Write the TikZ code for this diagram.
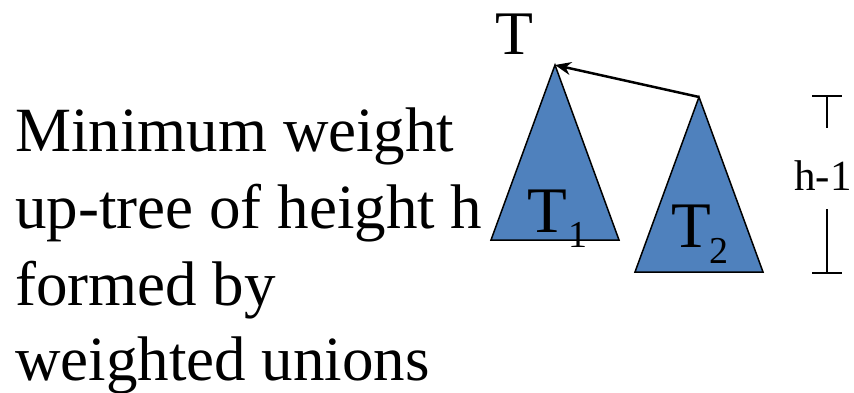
\documentclass[tikz,border=0pt]{standalone}
\usepackage{fontspec}
\setmainfont{Liberation Serif}
\usetikzlibrary{arrows.meta}
\definecolor{treeblue}{RGB}{79,129,189}
\tikzset{
  main/.style={anchor=base west, inner sep=0pt, font=\fontsize{63}{72}\selectfont},
  tree/.style={draw=black, line width=1.5pt, fill=treeblue, line join=miter},
  bar/.style={draw=black, line width=2.5pt},
  lab/.style={anchor=base west, inner sep=0pt}
}
\begin{document}
\begin{tikzpicture}[x=1pt,y=-1pt]
\useasboundingbox (0,0) rectangle (854,393);
% left text
\node[main] (l1) at (15,152) {Minimum weight};
\node[main] (l2) at (15,228) {up-tree of height h};
\node[main] (l3) at (15,305) {formed by};
\node[main] (l4) at (15,380) {weighted unions};
% triangles
\coordinate (a1) at (555,65);
\coordinate (a2) at (699,97);
\draw[tree] (a1) -- (619,240) -- (491,240) -- cycle;
\draw[tree] (a2) -- (763,272) -- (635,272) -- cycle;
% arrow
\draw[line width=2.5pt, -{Stealth[length=16pt,width=13pt]}] (a2) -- (a1);
% labels
\node[lab, font=\fontsize{62}{72}\selectfont] (t) at (495,55) {T};
\node[lab, font=\fontsize{65}{72}\selectfont] (t1) at (527,232) {T};
\node[lab, font=\fontsize{38}{40}\selectfont] (s1) at (568,247) {1};
\node[lab, font=\fontsize{65}{72}\selectfont] (t2) at (671,247) {T};
\node[lab, font=\fontsize{38}{40}\selectfont] (s2) at (709,263) {2};
% h-1 bracket
\node[lab, font=\fontsize{43}{48}\selectfont] (h) at (794,190) {h-1};
\coordinate (b1) at (827,96);
\coordinate (b2) at (827,128);
\coordinate (b3) at (827,209);
\coordinate (b4) at (827,273);
\draw[bar] (812,96) -- (842,96);
\draw[bar] (b1) -- (b2);
\draw[bar] (b3) -- (b4);
\draw[bar] (812,273) -- (842,273);
\end{tikzpicture}
\end{document}
